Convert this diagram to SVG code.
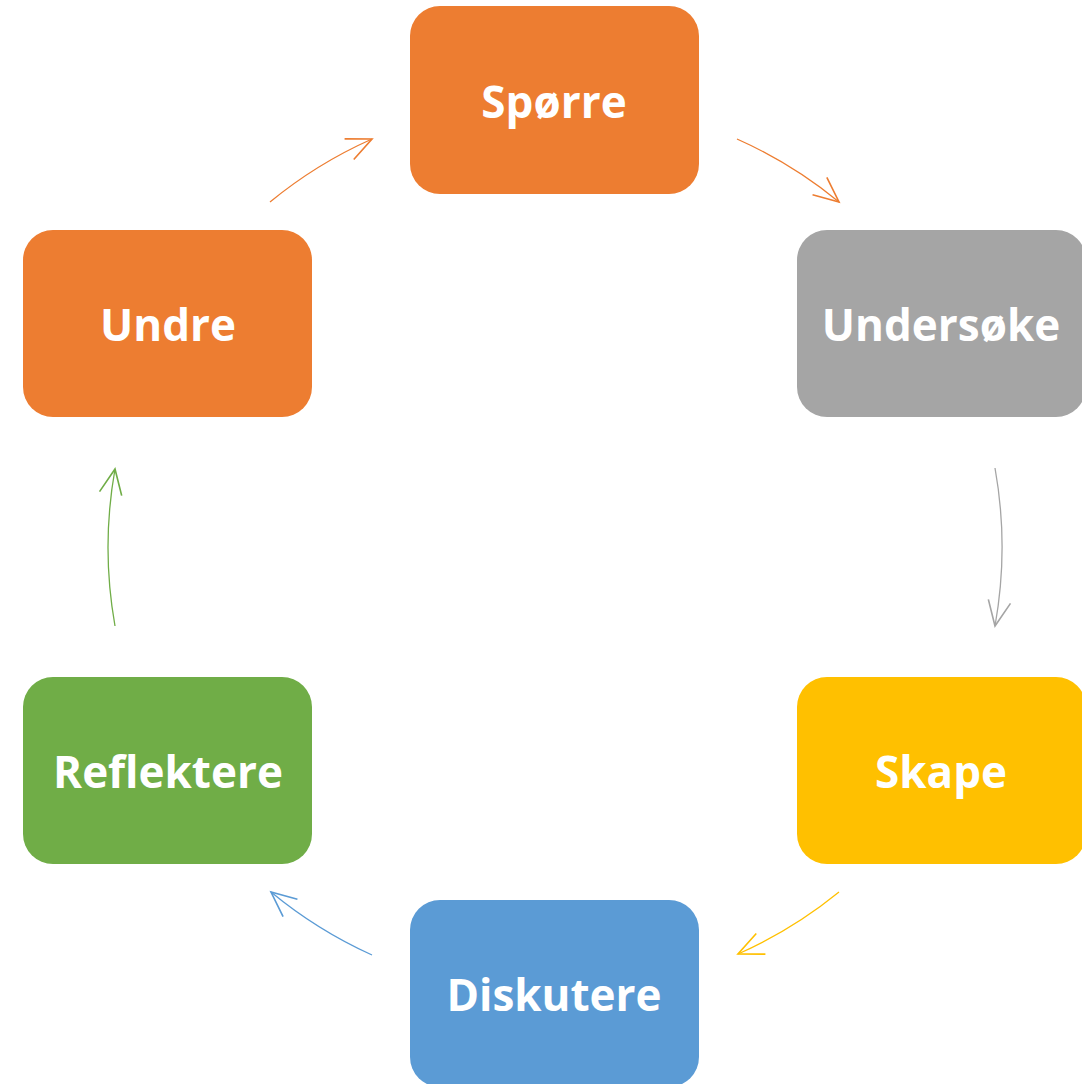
<svg xmlns="http://www.w3.org/2000/svg" width="1082" height="1084" viewBox="0 0 1082 1084">
<style>
.box{stroke:none}
.lbl{font-family:"Open Sans","Noto Sans","Liberation Sans",sans-serif;font-weight:700;font-size:44px;fill:#fff;text-anchor:middle}
.c{fill:none;stroke-width:1.3}
</style>
<defs>
<marker id="mo" markerUnits="userSpaceOnUse" markerWidth="30" markerHeight="30" viewBox="-22 -11 24 22" refX="0" refY="0" orient="auto"><path d="M-20,-9 L0,0 L-20,9" fill="none" stroke="#ED7D31" stroke-width="1.3"/></marker>
<marker id="mg" markerUnits="userSpaceOnUse" markerWidth="30" markerHeight="30" viewBox="-22 -11 24 22" refX="0" refY="0" orient="auto"><path d="M-20,-9 L0,0 L-20,9" fill="none" stroke="#A5A5A5" stroke-width="1.3"/></marker>
<marker id="my" markerUnits="userSpaceOnUse" markerWidth="30" markerHeight="30" viewBox="-22 -11 24 22" refX="0" refY="0" orient="auto"><path d="M-20,-9 L0,0 L-20,9" fill="none" stroke="#FFC000" stroke-width="1.3"/></marker>
<marker id="mb" markerUnits="userSpaceOnUse" markerWidth="30" markerHeight="30" viewBox="-22 -11 24 22" refX="0" refY="0" orient="auto"><path d="M-20,-9 L0,0 L-20,9" fill="none" stroke="#5B9BD5" stroke-width="1.3"/></marker>
<marker id="mn" markerUnits="userSpaceOnUse" markerWidth="30" markerHeight="30" viewBox="-22 -11 24 22" refX="0" refY="0" orient="auto"><path d="M-20,-9 L0,0 L-20,9" fill="none" stroke="#70AD47" stroke-width="1.3"/></marker>
</defs>
<rect width="1082" height="1084" fill="#fff"/>
<g id="connectors">
<path class="c" stroke="#ED7D31" marker-end="url(#mo)" d="M270,202 A447,447 0 0 1 372,139"/>
<path class="c" stroke="#ED7D31" marker-end="url(#mo)" d="M737,139 A447,447 0 0 1 839,202"/>
<path class="c" stroke="#A5A5A5" marker-end="url(#mg)" d="M995,468 A447,447 0 0 1 995,626"/>
<path class="c" stroke="#FFC000" marker-end="url(#my)" d="M839,892 A447,447 0 0 1 738,954"/>
<path class="c" stroke="#5B9BD5" marker-end="url(#mb)" d="M372,955 A447,447 0 0 1 271,892"/>
<path class="c" stroke="#70AD47" marker-end="url(#mn)" d="M115,626 A447,447 0 0 1 115,469"/>
</g>
<g id="sporre"><rect class="box" x="410" y="6" width="289" height="188" rx="30" fill="#ED7D31"/><text class="lbl" x="554" y="118">Spørre</text></g>
<g id="undersoke"><rect class="box" x="797" y="230" width="289" height="187" rx="30" fill="#A5A5A5"/><text class="lbl" x="941" y="341">Undersøke</text></g>
<g id="skape"><rect class="box" x="797" y="677" width="289" height="187" rx="30" fill="#FFC000"/><text class="lbl" x="941" y="788">Skape</text></g>
<g id="diskutere"><rect class="box" x="410" y="900" width="289" height="187" rx="30" fill="#5B9BD5"/><text class="lbl" x="554" y="1011">Diskutere</text></g>
<g id="reflektere"><rect class="box" x="23" y="677" width="289" height="187" rx="30" fill="#70AD47"/><text class="lbl" x="168" y="788">Reflektere</text></g>
<g id="undre"><rect class="box" x="23" y="230" width="289" height="187" rx="30" fill="#ED7D31"/><text class="lbl" x="168" y="341">Undre</text></g>
</svg>
